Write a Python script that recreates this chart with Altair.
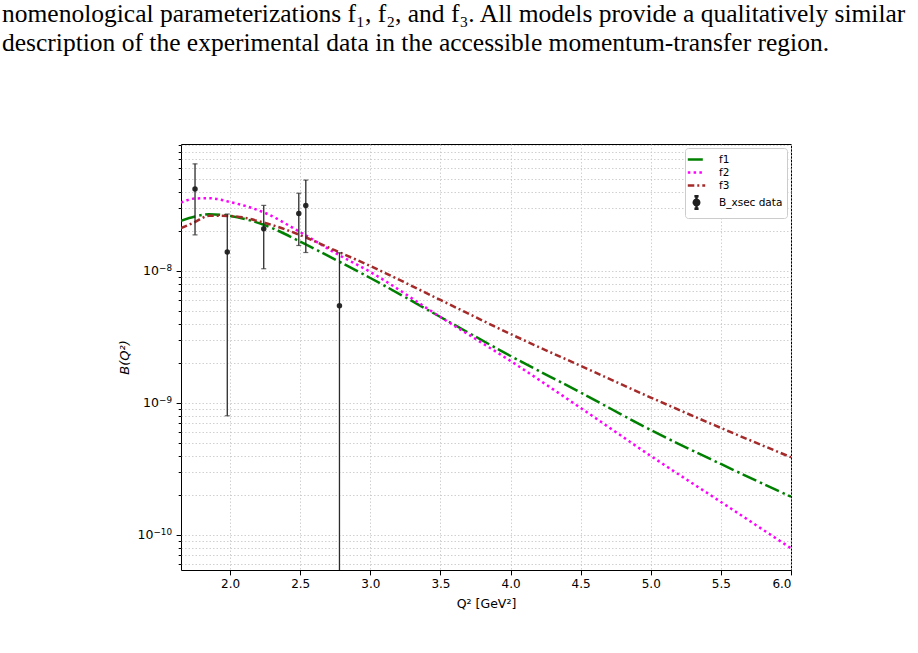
import altair as alt
import pandas as pd

# Q² values [GeV²] at which the model curves are tabulated
q2_grid = [1.65, 1.75, 1.85, 2.0, 2.25, 2.5, 2.75, 3.0, 3.5, 4.0, 4.5, 5.0, 5.5, 6.0]

# phenomenological parameterizations of B(Q²)
f1_vals = [2.40e-8, 2.59e-8, 2.69e-8, 2.61e-8, 2.22e-8, 1.67e-8, 1.22e-8, 8.85e-9,
           4.48e-9, 2.27e-9, 1.20e-9, 6.24e-10, 3.45e-10, 1.95e-10]
f2_vals = [3.29e-8, 3.54e-8, 3.56e-8, 3.33e-8, 2.75e-8, 1.97e-8, 1.37e-8, 9.83e-9,
           4.48e-9, 2.08e-9, 9.17e-10, 3.97e-10, 1.78e-10, 7.93e-11]
f3_vals = [2.11e-8, 2.35e-8, 2.62e-8, 2.61e-8, 2.31e-8, 1.87e-8, 1.43e-8, 1.09e-8,
           6.03e-9, 3.33e-9, 1.91e-9, 1.10e-9, 6.47e-10, 3.88e-10]

# measured B(Q²) with 1-sigma uncertainties
data_q2 = [1.75, 1.98, 2.24, 2.49, 2.54, 2.78]
data_b = [4.18e-8, 1.39e-8, 2.09e-8, 2.72e-8, 3.13e-8, 5.46e-9]
data_err = [2.30e-8, 1.31e-8, 1.05e-8, 1.16e-8, 1.75e-8, 8.3e-9]

# axis ticks
x_ticks = [2.0, 2.5, 3.0, 3.5, 4.0, 4.5, 5.0, 5.5, 6.0]
y_major = [1e-10, 1e-9, 1e-8]
y_major_exponents = ["−10", "−9", "−8"]

caption_lines = [
    "nomenological parameterizations f₁, f₂, and f₃. All models provide a qualitatively similar",
    "description of the experimental data in the accessible momentum-transfer region.",
]

series_names = ["f1", "f2", "f3", "B_xsec data"]
series_colors = ["#008000", "#ff00ff", "#a52a2a", "#1f1f1f"]
series_dash = [[15, 4, 2.5, 3.5], [2.5, 3.3], [6.5, 3, 2, 3], [1, 0]]
series_width = [2.5, 2.5, 2.5, 1.3]
line_glyph = "M-1.45,0L1.45,0"
errbar_glyph = ("M0,-1.05L0,1.05M-0.35,-1.05L0.35,-1.05M-0.35,1.05L0.35,1.05"
                "M0.45,0A0.45,0.45,0,1,1,-0.45,0A0.45,0.45,0,1,1,0.45,0Z")

x_domain = [1.65, 6.0]
y_domain = [5.43e-11, 9.16e-8]

# ---- tables -------------------------------------------------------------
curves = pd.DataFrame(
    [{"Q2": q, "B": v, "series": name}
     for name, vals in (("f1", f1_vals), ("f2", f2_vals), ("f3", f3_vals))
     for q, v in zip(q2_grid, vals)]
)
meas = pd.DataFrame({"Q2": data_q2, "B": data_b, "err": data_err})
meas["hi"] = meas["B"] + meas["err"]
# a lower edge below zero runs off the bottom of the log axis
meas["lo"] = [b - e if b - e > 0 else 1e-13 for b, e in zip(data_b, data_err)]
meas["series"] = "B_xsec data"

# ---- scales and axes ------------------------------------------------------
grid_style = dict(grid=True, gridColor="#c4c4c4", gridDash=[1.5, 2], gridWidth=0.8)
font = "DejaVu Sans"

x_scale = alt.Scale(domain=x_domain, nice=False, zero=False)
y_scale = alt.Scale(type="log", domain=y_domain, nice=False)

x_axis = alt.Axis(
    values=x_ticks, format=".1f", title="Q² [GeV²]", domain=False,
    tickSize=4.9, tickColor="black", tickWidth=1,
    labelPadding=4, labelFont=font, labelFontSize=12, labelColor="black",
    titleFont=font, titleFontSize=12.5, titleFontWeight="normal", titleColor="black",
    titlePadding=8, **grid_style,
)

y_minor = [m * 10.0 ** k for k in (-11, -10, -9, -8) for m in range(2, 10)]
y_minor = [v for v in y_minor if y_domain[0] <= v <= y_domain[1]]
y_all = sorted(y_major + y_minor)
major_test = " || ".join(f"datum.value == {v!r}" for v in y_major)

y_axis = alt.Axis(
    values=y_all, labels=False, title="B(Q²)", domain=False,
    tickSize={"condition": {"test": major_test, "value": 4.9}, "value": 2.8},
    tickColor="black", tickWidth=1,
    titleFont=font, titleFontSize=13, titleFontStyle="italic", titleFontWeight="normal",
    titleColor="black", titleX=-57, titleY=213, titleAngle=270, titleAlign="center",
    titleBaseline="middle", **grid_style,
)


def X(field):
    return alt.X(field, type="quantitative", scale=x_scale, axis=x_axis)


def Y(field):
    return alt.Y(field, type="quantitative", scale=y_scale, axis=y_axis)


legend = alt.Legend(
    title=None, orient="none", legendX=504, legendY=4,
    fillColor="white", strokeColor="#cccccc", cornerRadius=3, padding=4,
    labelFont=font, labelFontSize=10.5, labelColor="black", labelOffset=15,
    symbolSize=144, rowPadding=0,
)
color = alt.Color("series:N", scale=alt.Scale(domain=series_names, range=series_colors), legend=legend)
dash = alt.StrokeDash("series:N", scale=alt.Scale(domain=series_names, range=series_dash), legend=legend)
width = alt.StrokeWidth("series:N", scale=alt.Scale(domain=series_names, range=series_width), legend=legend)
shape = alt.Shape("series:N",
                  scale=alt.Scale(domain=series_names, range=[line_glyph] * 3 + [errbar_glyph]),
                  legend=legend)

# ---- layers -------------------------------------------------------------
model_lines = alt.Chart(curves).mark_line(interpolate="monotone", clip=True).encode(
    x=X("Q2"), y=Y("B"), color=color, strokeDash=dash, strokeWidth=width,
    detail="series:N",
)

# carries the legend glyphs only; it draws no rows of its own
legend_keys = alt.Chart(meas).transform_filter("false").mark_point(filled=True, opacity=1).encode(
    x=X("Q2"), y=Y("B"), color=color, shape=shape,
)

bars = alt.Chart(meas).mark_rule(color="#2b2b2b", strokeWidth=1.3, clip=True).encode(
    x=X("Q2"), y=Y("lo"), y2="hi",
)
caps_hi = alt.Chart(meas).mark_tick(orient="horizontal", color="#2b2b2b", size=5,
                                    thickness=1.2, clip=True).encode(x=X("Q2"), y=Y("hi"))
caps_lo = alt.Chart(meas).mark_tick(orient="horizontal", color="#2b2b2b", size=5,
                                    thickness=1.2, clip=True).encode(x=X("Q2"), y=Y("lo"))
points = alt.Chart(meas).mark_circle(color="#1f1f1f", size=30, opacity=0.95).encode(
    x=X("Q2"), y=Y("B"),
)

# power-of-ten tick labels: a full-size "10" with a raised exponent
base_size, exp_size = 12.5, 8.8
tick_label_layers = []
for value, exponent in zip(y_major, y_major_exponents):
    exp_width = exp_size * (0.838 + 0.636 * (len(exponent) - 1))
    row = pd.DataFrame({"B": [value], "base": ["10"], "exp": [exponent]})
    tick_label_layers.append(
        alt.Chart(row).mark_text(align="right", baseline="alphabetic", dy=4.5,
                                 font=font, fontSize=base_size, color="black")
        .encode(x=alt.value(-9 - exp_width), y=Y("B"), text="base:N")
    )
    tick_label_layers.append(
        alt.Chart(row).mark_text(align="right", baseline="alphabetic", dy=0.5,
                                 font=font, fontSize=exp_size, color="black")
        .encode(x=alt.value(-9), y=Y("B"), text="exp:N")
    )

caption_style = dict(align="left", baseline="alphabetic", font="Liberation Serif",
                     fontSize=25.5, color="black")
caption_1 = alt.Chart(pd.DataFrame({"t": [caption_lines[0]]})).mark_text(**caption_style).encode(
    x=alt.value(-179), y=alt.value(-122), text="t:N")
caption_2 = alt.Chart(pd.DataFrame({"t": [caption_lines[1]]})).mark_text(**caption_style).encode(
    x=alt.value(-179), y=alt.value(-93), text="t:N")

chart = alt.layer(
    model_lines, legend_keys, bars, caps_hi, caps_lo, points,
    *tick_label_layers, caption_1, caption_2,
).properties(
    width=610, height=426,
    title=alt.TitleParams("B(Q²)", font=font, fontSize=15, fontWeight="normal",
                          color="black", offset=7, anchor="middle"),
    autosize=alt.AutoSizeParams(type="none"),
    padding={"left": 181, "top": 144, "right": 127, "bottom": 83},
).configure_view(stroke="black", strokeWidth=1)

chart.save("out.html", embed_options={"renderer": "svg", "actions": False})
